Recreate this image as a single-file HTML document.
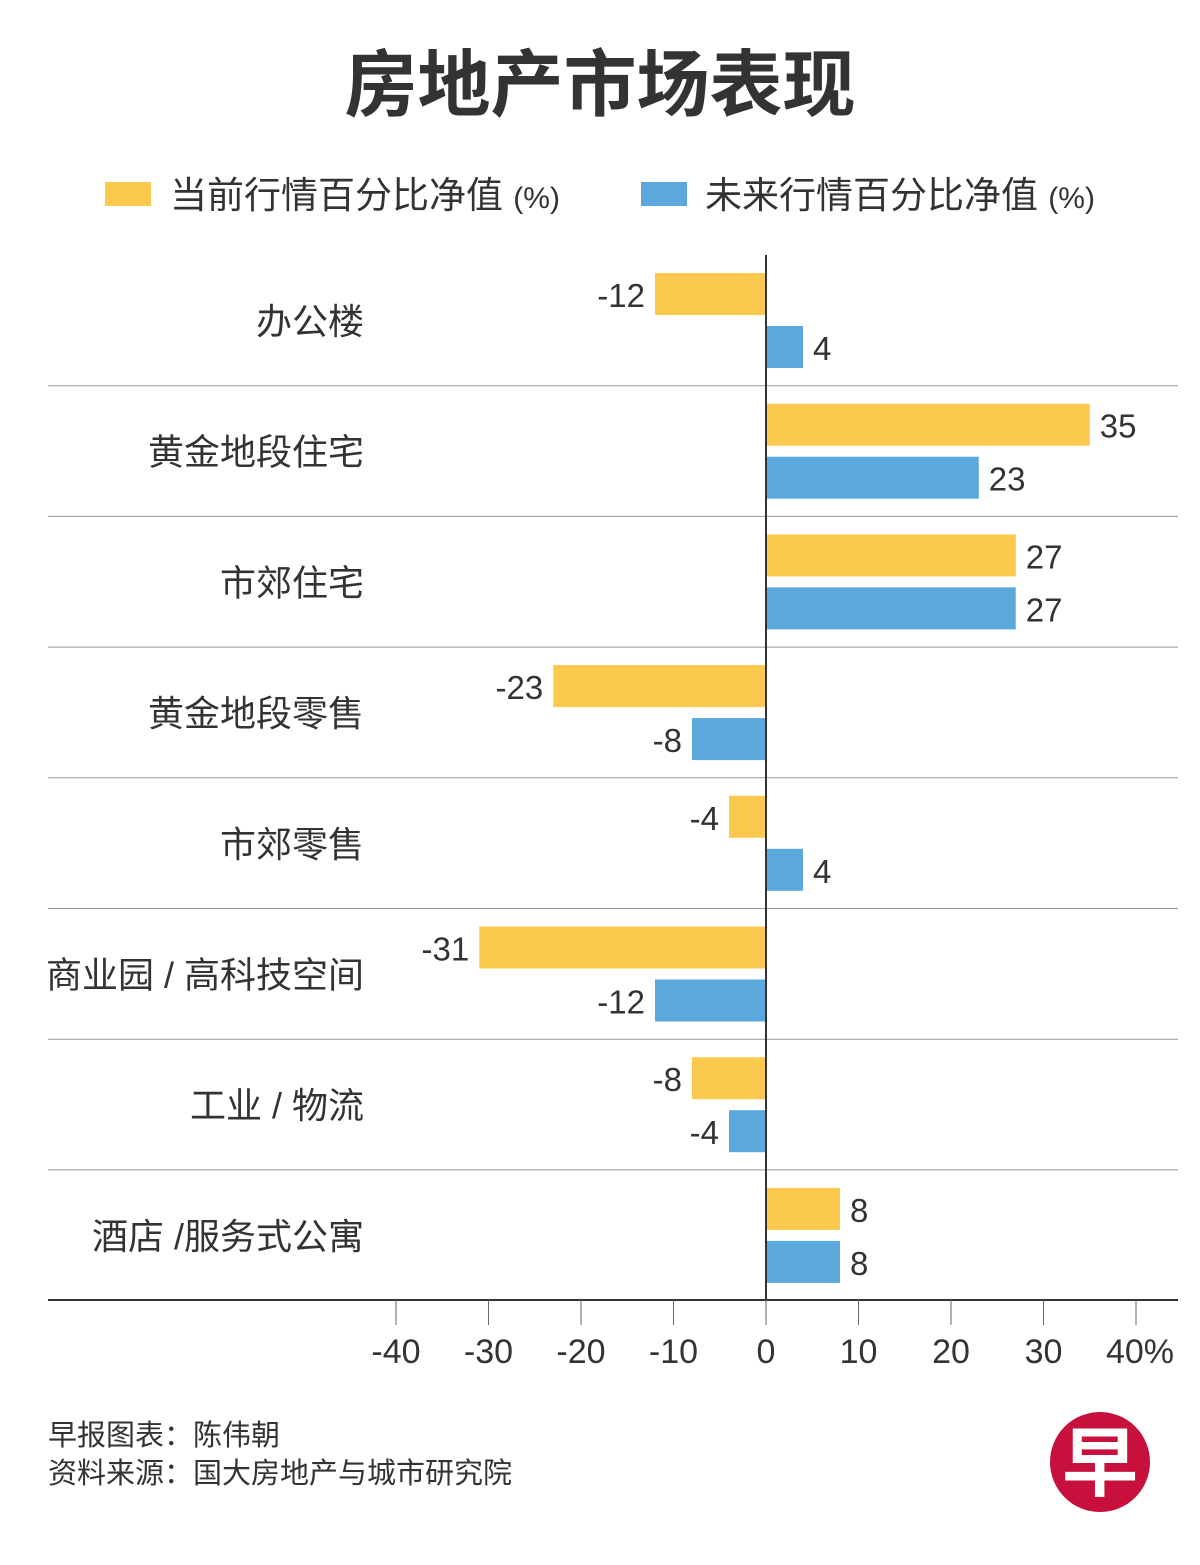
<!DOCTYPE html>
<html><head><meta charset="utf-8"><style>
body{margin:0;background:#fff;}
svg text{font-family:"Liberation Sans","Noto Sans CJK SC",sans-serif;}
</style></head><body>
<svg id="chart" width="1200" height="1560" xmlns="http://www.w3.org/2000/svg">
<text x="600" y="110" text-anchor="middle" font-size="73" font-weight="bold" fill="#333">房地产市场表现</text>
<g>
<rect x="105" y="182" width="46" height="24" fill="#fcc94f"/>
<text x="170" y="208" font-size="37" fill="#333">当前行情百分比净值 <tspan font-size="30">(%)</tspan></text>
<rect x="641" y="182" width="46" height="24" fill="#5aa8dc"/>
<text x="705" y="208" font-size="37" fill="#333">未来行情百分比净值 <tspan font-size="30">(%)</tspan></text>
</g>
<g id="plot"></g>
<text x="48" y="1445" font-size="29" fill="#333">早报图表：陈伟朝</text>
<text x="48" y="1483" font-size="29" fill="#333">资料来源：国大房地产与城市研究院</text>
<g>
<circle cx="1100" cy="1462" r="50" fill="#c8103c"/>
<text x="1100" y="1490" text-anchor="middle" font-size="76" font-weight="bold" fill="#fff">早</text>
</g>
</svg>
<script>
const categories=["办公楼","黄金地段住宅","市郊住宅","黄金地段零售","市郊零售","商业园 / 高科技空间","工业 / 物流","酒店 /服务式公寓"];
const currentValues=[-12,35,27,-23,-4,-31,-8,8];
const futureValues=[4,23,27,-8,4,-12,-4,8];
const tickValues=[-40,-30,-20,-10,0,10,20,30,40];
const tickLabels=["-40","-30","-20","-10","0","10","20","30","40%"];
const NS="http://www.w3.org/2000/svg";
const g=document.getElementById('plot');
const x0=766,scale=9.25,top0=255,rowH=130.7;
const xs=v=>x0+v*scale;
function el(t,a,txt){const e=document.createElementNS(NS,t);for(const k in a)e.setAttribute(k,a[k]);if(txt!==undefined)e.textContent=txt;g.appendChild(e);return e;}
categories.forEach((c,i)=>{
  const rt=top0+i*rowH;
  const lab=el('text',{x:364,y:rt+79,'text-anchor':'end','font-size':36,fill:'#333'},c);
  
  
  if(i>0){const s=el('line',{x1:48,x2:1178,y1:rt,y2:rt,stroke:'#999','stroke-width':1});
    
    }
  [[currentValues[i],18,'#fcc94f','bar-current'],[futureValues[i],71,'#5aa8dc','bar-future']].forEach(([v,off,col,nm])=>{
    const a=xs(Math.min(0,v)),w=Math.abs(v)*scale;
    const b=el('rect',{x:a,y:rt+off,width:w,height:42,fill:col});
    
    
    const t=el('text',{x:v>=0?xs(v)+10:xs(v)-10,y:rt+off+34,'text-anchor':v>=0?'start':'end','font-size':33,fill:'#333'},String(v));
    
    
  });
});
const ax=el('line',{x1:48,x2:1178,y1:1300,y2:1300,stroke:'#333','stroke-width':2});


const zl=el('line',{x1:x0,x2:x0,y1:top0,y2:1300,stroke:'#333','stroke-width':2});


tickValues.forEach((v,i)=>{
  const tk=el('line',{x1:xs(v),x2:xs(v),y1:1300,y2:1325,stroke:'#666','stroke-width':1});
  
  
  const tl=el('text',{x:xs(v)+(i===tickLabels.length-1?4:0),y:1363,'text-anchor':'middle','font-size':34,fill:'#333'},tickLabels[i]);
  
  
});
</script>
</body></html>
